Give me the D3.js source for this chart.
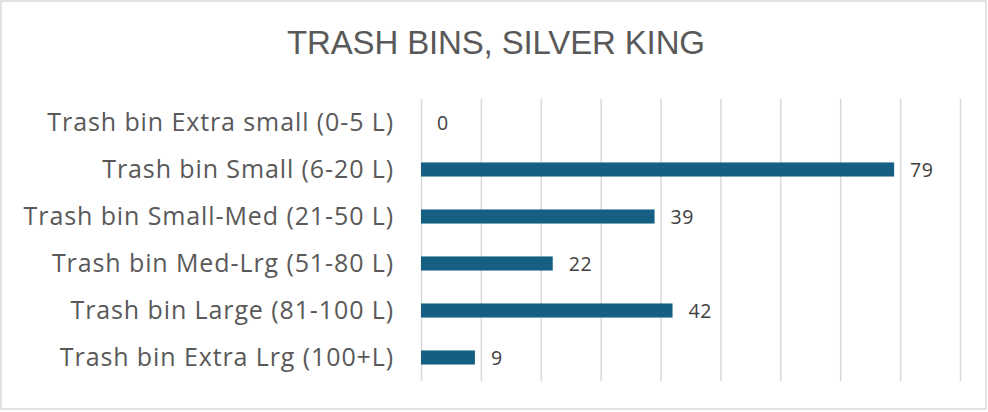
<!DOCTYPE html>
<html>
<head>
<meta charset="utf-8">
<script src="https://cdn.jsdelivr.net/npm/d3@7"></script>
<style>
  html, body { margin: 0; padding: 0; background: #fff; }
  svg { display: block; }
</style>
</head>
<body>
<svg id="chart" width="988" height="412"></svg>
<script>
// data
var categories = [
    'Trash bin Extra small (0-5 L)',
    'Trash bin Small (6-20 L)',
    'Trash bin Small-Med (21-50 L)',
    'Trash bin Med-Lrg (51-80 L)',
    'Trash bin Large (81-100 L)',
    'Trash bin Extra Lrg (100+L)'
];
var counts = [0, 79, 39, 22, 42, 9];
var xTicks = [0, 10, 20, 30, 40, 50, 60, 70, 80, 90];
var chartTitle = 'TRASH BINS, SILVER KING';

var W = 988, H = 412;
var svg = d3.select('#chart');

// outer border of the chart area
svg.append('rect')
    .attr('x', 1).attr('y', 1)
    .attr('width', W - 3).attr('height', H - 4)
    .attr('fill', '#fff')
    .attr('stroke', '#d9d9d9')
    .attr('stroke-width', 1.5);

var x = d3.scaleLinear()
    .domain([0, 90])
    .range([421, 960]);

var y = d3.scaleBand()
    .domain(categories)
    .range([99, 381])
    .paddingInner(0.7)
    .paddingOuter(0.35);

// vertical gridlines
var xGrid = d3.axisBottom(x)
    .tickValues(xTicks)
    .tickSize(-(381 - 99))
    .tickFormat('');

var grid = svg.append('g')
    .attr('transform', 'translate(0,381)')
    .call(xGrid);
grid.select('.domain').remove();
grid.selectAll('.tick line')
    .attr('stroke', '#d9d9d9')
    .attr('stroke-width', 1.5);

// category labels
var yAxis = d3.axisLeft(y).tickSize(0).tickPadding(0);
var yg = svg.append('g')
    .attr('transform', 'translate(394,0)')
    .call(yAxis);
yg.select('.domain').remove();
yg.selectAll('.tick text')
    .attr('fill', '#595959')
    .attr('font-family', '"Open Sans", sans-serif')
    .attr('font-size', 25)
    .attr('letter-spacing', '0.9px')
    .attr('dy', '0.32em');

// bars
svg.selectAll('rect.bar')
    .data(counts)
    .enter()
    .append('rect')
    .attr('class', 'bar')
    .attr('x', x(0))
    .attr('y', function(d, i) { return y(categories[i]); })
    .attr('width', function(d) { return x(d) - x(0); })
    .attr('height', y.bandwidth())
    .attr('fill', '#156082');

// value labels
svg.selectAll('text.val')
    .data(counts)
    .enter()
    .append('text')
    .attr('class', 'val')
    .attr('x', function(d) { return x(d) + 16; })
    .attr('y', function(d, i) { return y(categories[i]) + y.bandwidth() / 2; })
    .attr('dy', '0.36em')
    .attr('fill', '#404040')
    .attr('font-family', '"Open Sans", sans-serif')
    .attr('font-size', 19.5)
    .attr('letter-spacing', '0.5px')
    .text(function(d) { return d; });

// title
svg.append('text')
    .attr('x', 496)
    .attr('y', 54)
    .attr('text-anchor', 'middle')
    .attr('fill', '#595959')
    .attr('font-family', '"Liberation Sans Narrow", "Liberation Sans", sans-serif')
    .attr('font-size', 33)
    .attr('textLength', 418)
    .attr('lengthAdjust', 'spacing')
    .text(chartTitle);
</script>
</body>
</html>
